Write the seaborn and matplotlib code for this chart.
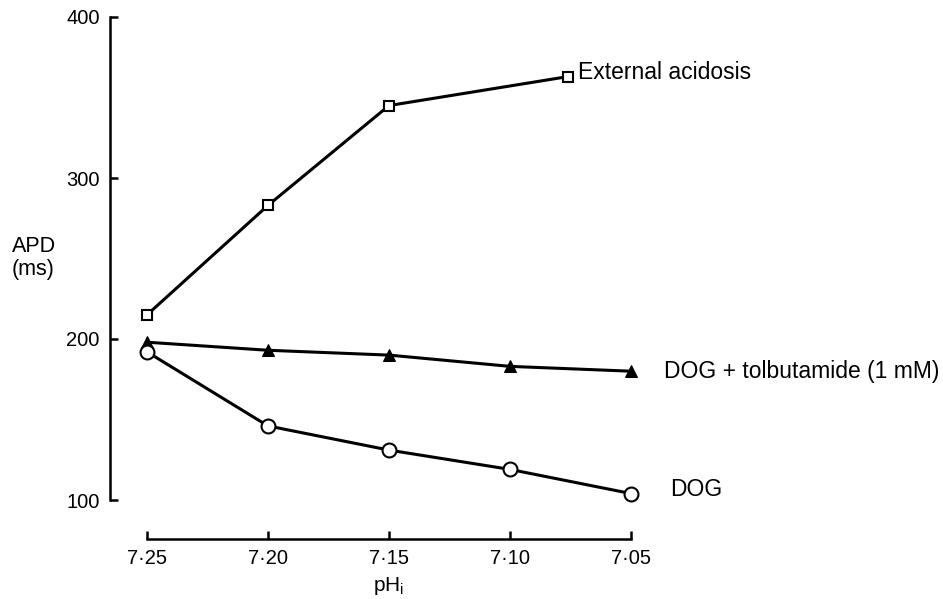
import matplotlib
matplotlib.use("Agg")
import matplotlib.pyplot as plt
import seaborn as sns

# -----------------------------
# Data
# -----------------------------
ph = [7.25, 7.20, 7.15, 7.10, 7.05]
ph_acid = [7.25, 7.20, 7.15, 7.076]

apd_acidosis = [215, 283, 345, 363]
apd_tolb = [198, 193, 190, 183, 180]
apd_dog = [192, 146, 131, 119, 104]

xticks = [7.25, 7.20, 7.15, 7.10, 7.05]
xtick_labels = ["7·25", "7·20", "7·15", "7·10", "7·05"]
yticks = [100, 200, 300, 400]

labels = ["External acidosis", "DOG + tolbutamide (1 mM)", "DOG"]

sns.set_style("ticks")
plt.rcParams["font.family"] = ["Liberation Sans", "DejaVu Sans"]
plt.rcParams["text.color"] = "black"

fig = plt.figure(figsize=(9.43, 5.99), dpi=100)
ax = fig.add_axes([147 / 943, 1 - 500 / 599, (631 - 147) / 943, (500 - 17) / 599])

line_kw = dict(color="black", linewidth=2.2, clip_on=False)

sns.lineplot(x=ph_acid, y=apd_acidosis, marker="s", markersize=6.5,
             markerfacecolor="white", markeredgecolor="black",
             markeredgewidth=1.5, ax=ax, **line_kw)
sns.lineplot(x=ph, y=apd_tolb, marker="^", markersize=9,
             markerfacecolor="black", markeredgecolor="black", ax=ax, **line_kw)
sns.lineplot(x=ph, y=apd_dog, marker="o", markersize=10,
             markerfacecolor="white", markeredgecolor="black",
             markeredgewidth=1.5, ax=ax, **line_kw)

ax.set_xlim(7.25, 7.05)
ax.set_ylim(100, 400)
ax.set_xticks(xticks)
ax.set_xticklabels(xtick_labels)
ax.set_yticks(yticks)

# detached axes like the original figure
sns.despine(ax=ax)
ax.spines["left"].set_position(("outward", 27))
ax.spines["bottom"].set_position(("outward", 28))
ax.spines["left"].set_bounds(100, 400)
ax.spines["bottom"].set_bounds(7.25, 7.05)
for s in ["left", "bottom"]:
    ax.spines[s].set_linewidth(1.8)
    ax.spines[s].set_color("black")
ax.tick_params(direction="in", length=6, width=1.8, labelsize=14.5,
               colors="black", labelcolor="black", pad=7)

ax.set_xlabel("pH$_\\mathregular{i}$", fontsize=15, labelpad=5, color="black")
ax.set_ylabel("")
fig.text(12 / 943, 1 - 258 / 599, "APD\n(ms)", fontsize=15.5,
         ha="left", va="center", linespacing=1.1, color="black")

# series labels at the line ends
ax.annotate(labels[0], xy=(ph_acid[-1], apd_acidosis[-1]), xytext=(7, 3),
            textcoords="offset points", fontsize=16.5, va="center",
            color="black", annotation_clip=False)
ax.annotate(labels[1], xy=(ph[-1], apd_tolb[-1]), xytext=(24, 0),
            textcoords="offset points", fontsize=16.5, va="center",
            color="black", annotation_clip=False)
ax.annotate(labels[2], xy=(ph[-1], apd_dog[-1]), xytext=(28, 3),
            textcoords="offset points", fontsize=16.5, va="center",
            color="black", annotation_clip=False)

fig.savefig("out.png", dpi=100)
